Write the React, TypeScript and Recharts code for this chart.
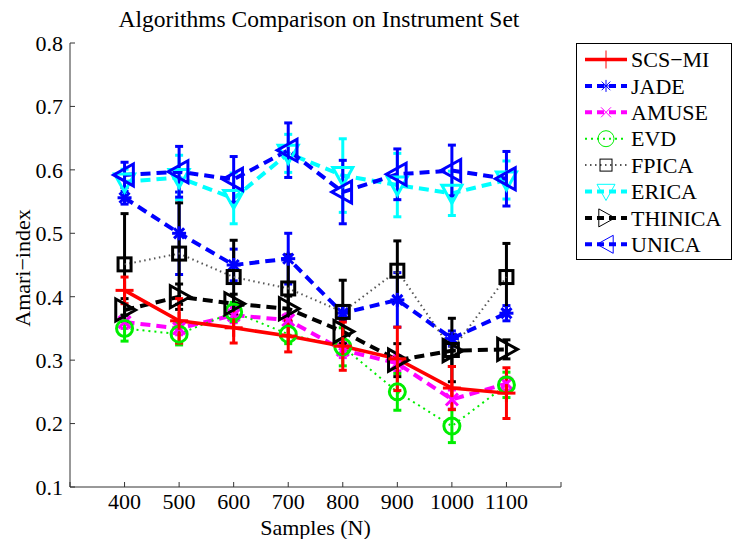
import React from "react";
import { ComposedChart, Line, XAxis, YAxis, ErrorBar, Legend } from "recharts";

const samples = [400, 500, 600, 700, 800, 900, 1000, 1100];

const scsMi = [0.41, 0.362, 0.351, 0.338, 0.322, 0.302, 0.256, 0.248];
const scsMiErr = [0.021, 0.035, 0.024, 0.025, 0.038, 0.05, 0.034, 0.04];
const jade = [0.556, 0.5, 0.45, 0.46, 0.374, 0.395, 0.334, 0.374];
const jadeErr = [0.01, 0.065, 0.025, 0.04, 0.012, 0.043, 0.012, 0.012];
const amuse = [0.36, 0.35, 0.371, 0.363, 0.316, 0.295, 0.238, 0.263];
const amuseErr = [0.01, 0.01, 0.012, 0.01, 0.012, 0.012, 0.015, 0.01];
const evd = [0.35, 0.341, 0.376, 0.341, 0.321, 0.25, 0.196, 0.261];
const evdErr = [0.02, 0.017, 0.015, 0.015, 0.03, 0.029, 0.026, 0.02];
const fpica = [0.451, 0.468, 0.431, 0.413, 0.376, 0.441, 0.316, 0.431];
const fpicaErr = [0.08, 0.08, 0.058, 0.053, 0.05, 0.047, 0.05, 0.053];
const erica = [0.581, 0.588, 0.555, 0.626, 0.591, 0.576, 0.563, 0.584];
const ericaErr = [0.02, 0.035, 0.04, 0.03, 0.058, 0.05, 0.035, 0.03];
const thinica = [0.379, 0.4, 0.389, 0.381, 0.345, 0.3, 0.315, 0.317];
const thinicaErr = [0.018, 0.02, 0.015, 0.02, 0.02, 0.026, 0.025, 0.015];
const unica = [0.592, 0.597, 0.585, 0.631, 0.565, 0.593, 0.599, 0.586];
const unicaErr = [0.02, 0.04, 0.036, 0.043, 0.05, 0.04, 0.04, 0.043];

const xTicks = [300, 400, 500, 600, 700, 800, 900, 1000, 1100, 1200];
const yTicks = [0.1, 0.2, 0.3, 0.4, 0.5, 0.6, 0.7, 0.8];

const FONT = "'Liberation Serif', 'Times New Roman', serif";

type Kind = "plus" | "star" | "cross" | "circle" | "square" | "down" | "right" | "left";

type Series = {
  name: string;
  key: string;
  values: number[];
  errors: number[];
  color: string;
  barColor: string;
  dash?: string;
  width: number;
  marker: Kind;
  size: number;
  legendSize: number;
};

// plotting order as in the figure, SCS-MI on top
const series: Series[] = [
  { name: "JADE", key: "jade", values: jade, errors: jadeErr, color: "#0000ff", barColor: "#0000ff", dash: "10 6", width: 4, marker: "star", size: 7, legendSize: 6 },
  { name: "AMUSE", key: "amuse", values: amuse, errors: amuseErr, color: "#ff00ff", barColor: "#ff00ff", dash: "10 6", width: 4, marker: "cross", size: 6, legendSize: 5 },
  { name: "EVD", key: "evd", values: evd, errors: evdErr, color: "#00ee00", barColor: "#00ee00", dash: "2 4", width: 2, marker: "circle", size: 8, legendSize: 8 },
  { name: "FPICA", key: "fpica", values: fpica, errors: fpicaErr, color: "#555555", barColor: "#000000", dash: "1.5 3.5", width: 2, marker: "square", size: 6.5, legendSize: 6 },
  { name: "ERICA", key: "erica", values: erica, errors: ericaErr, color: "#00ffff", barColor: "#00ffff", dash: "10 6", width: 4, marker: "down", size: 10, legendSize: 9 },
  { name: "THINICA", key: "thinica", values: thinica, errors: thinicaErr, color: "#000000", barColor: "#000000", dash: "10 6", width: 4, marker: "right", size: 11, legendSize: 9 },
  { name: "UNICA", key: "unica", values: unica, errors: unicaErr, color: "#0000ff", barColor: "#0000ff", dash: "10 6", width: 4, marker: "left", size: 11, legendSize: 9 },
  { name: "SCS\u2212MI", key: "scs", values: scsMi, errors: scsMiErr, color: "#ff0000", barColor: "#ff0000", width: 3.5, marker: "plus", size: 9, legendSize: 9 },
];

const legendOrder = ["scs", "jade", "amuse", "evd", "fpica", "erica", "thinica", "unica"];

const data = samples.map((n, i) => {
  const row: Record<string, number> = { n };
  series.forEach((s) => {
    row[s.key] = s.values[i];
    row[s.key + "Err"] = s.errors[i];
  });
  return row;
});

function Marker({ kind, cx, cy, color, sw, r }: { kind: Kind; cx: number; cy: number; color: string; sw: number; r: number }) {
  const st = { stroke: color, strokeWidth: sw, fill: "none" };
  const d = r * 0.72;
  switch (kind) {
    case "plus":
      return (
        <g>
          <line x1={cx - r} y1={cy} x2={cx + r} y2={cy} {...st} />
          <line x1={cx} y1={cy - r} x2={cx} y2={cy + r} {...st} />
        </g>
      );
    case "cross":
      return (
        <g>
          <line x1={cx - r} y1={cy - r} x2={cx + r} y2={cy + r} {...st} />
          <line x1={cx - r} y1={cy + r} x2={cx + r} y2={cy - r} {...st} />
        </g>
      );
    case "star":
      return (
        <g>
          <line x1={cx - r} y1={cy} x2={cx + r} y2={cy} {...st} />
          <line x1={cx} y1={cy - r} x2={cx} y2={cy + r} {...st} />
          <line x1={cx - d} y1={cy - d} x2={cx + d} y2={cy + d} {...st} />
          <line x1={cx - d} y1={cy + d} x2={cx + d} y2={cy - d} {...st} />
        </g>
      );
    case "circle":
      return <circle cx={cx} cy={cy} r={r} {...st} />;
    case "square":
      return <rect x={cx - r} y={cy - r} width={2 * r} height={2 * r} {...st} />;
    case "down":
      return <polygon points={`${cx - r},${cy - r * 0.8} ${cx + r},${cy - r * 0.8} ${cx},${cy + r}`} {...st} />;
    case "right":
      return <polygon points={`${cx - r * 0.8},${cy - r} ${cx - r * 0.8},${cy + r} ${cx + r},${cy}`} {...st} />;
    case "left":
      return <polygon points={`${cx + r * 0.8},${cy - r} ${cx + r * 0.8},${cy + r} ${cx - r},${cy}`} {...st} />;
  }
}

function LegendBox() {
  const byKey = Object.fromEntries(series.map((s) => [s.key, s]));
  return (
    <svg width={156} height={217} style={{ display: "block" }}>
      <rect x={0.5} y={0.5} width={155} height={216} fill="#fff" stroke="#000" strokeWidth={1} />
      {legendOrder.map((k, i) => {
        const s = byKey[k];
        const y = 16.5 + i * 26.4;
        return (
          <g key={k}>
            <line x1={9} x2={51} y1={y} y2={y} stroke={s.color} strokeWidth={s.width} strokeDasharray={s.dash ? (s.width > 3 ? "7 5" : s.dash) : undefined} />
            <Marker kind={s.marker} cx={30} cy={y} color={s.barColor === "#000000" && s.key === "fpica" ? "#000" : s.color} sw={1} r={s.legendSize} />
            <text x={55} y={y} dy="0.35em" fontSize={22} fontFamily={FONT} fill="#000">
              {s.name}
            </text>
          </g>
        );
      })}
    </svg>
  );
}

function YTitle(props: any) {
  const vb = props.viewBox || { x: 0, y: 43, width: 70, height: 444 };
  const cx = vb.x + 22;
  const cy = vb.y + vb.height / 2 + 3;
  return (
    <text x={cx} y={cy} transform={`rotate(-90 ${cx} ${cy})`} textAnchor="middle" dy="0.35em" fontSize={22} fontFamily={FONT} fill="#000">
      Amari{"\u2212"}index
    </text>
  );
}

export default function App() {
  return (
    <div style={{ position: "absolute", left: 0, top: 0, width: 732, height: 539, background: "#fff" }}>
      <svg width={732} height={40} style={{ position: "absolute", left: 0, top: 0 }}>
        <text x={319} y={27} textAnchor="middle" fontSize={23.5} fontFamily={FONT} fill="#000">
          Algorithms Comparison on Instrument Set
        </text>
      </svg>
      <ComposedChart width={732} height={539} data={data} margin={{ top: 43, right: 171, bottom: 0, left: 0 }}>
        <XAxis
          dataKey="n"
          type="number"
          domain={[300, 1200]}
          ticks={xTicks}
          interval={0}
          allowDataOverflow
          height={52}
          tickSize={-5}
          tickMargin={11}
          tickFormatter={(v: number) => (v === 300 || v === 1200 ? "" : String(v))}
          tick={{ fontSize: 22, fontFamily: FONT, fill: "#000" }}
          stroke="#333"
          label={{ value: "Samples (N)", position: "insideBottom", offset: 4, fontSize: 22, fontFamily: FONT, fill: "#000" }}
        />
        <YAxis
          type="number"
          domain={[0.1, 0.8]}
          ticks={yTicks}
          interval={0}
          allowDataOverflow
          width={70}
          tickSize={-5}
          tickMargin={12}
          tickFormatter={(v: number) => v.toFixed(1)}
          tick={{ fontSize: 22, fontFamily: FONT, fill: "#000" }}
          stroke="#333"
          label={<YTitle />}
        />
        <Legend
          layout="vertical"
          align="center"
          verticalAlign="middle"
          content={() => <LegendBox />}
          wrapperStyle={{ left: 576, top: 43, width: 156, height: 217 }}
        />
        {series.map((s) => (
          <Line
            key={s.key}
            dataKey={s.key}
            name={s.name}
            type="linear"
            stroke={s.color}
            strokeWidth={s.width}
            strokeDasharray={s.dash}
            isAnimationActive={false}
            activeDot={false}
            dot={(p: any) => (
              <Marker key={`${s.key}-${p.index}`} kind={s.marker} cx={p.cx} cy={p.cy} color={s.barColor === "#000000" ? "#000" : s.color} sw={3} r={s.size} />
            )}
          >
            <ErrorBar dataKey={s.key + "Err"} direction="y" width={4} stroke={s.barColor} strokeWidth={3} isAnimationActive={false} />
          </Line>
        ))}
      </ComposedChart>
    </div>
  );
}
